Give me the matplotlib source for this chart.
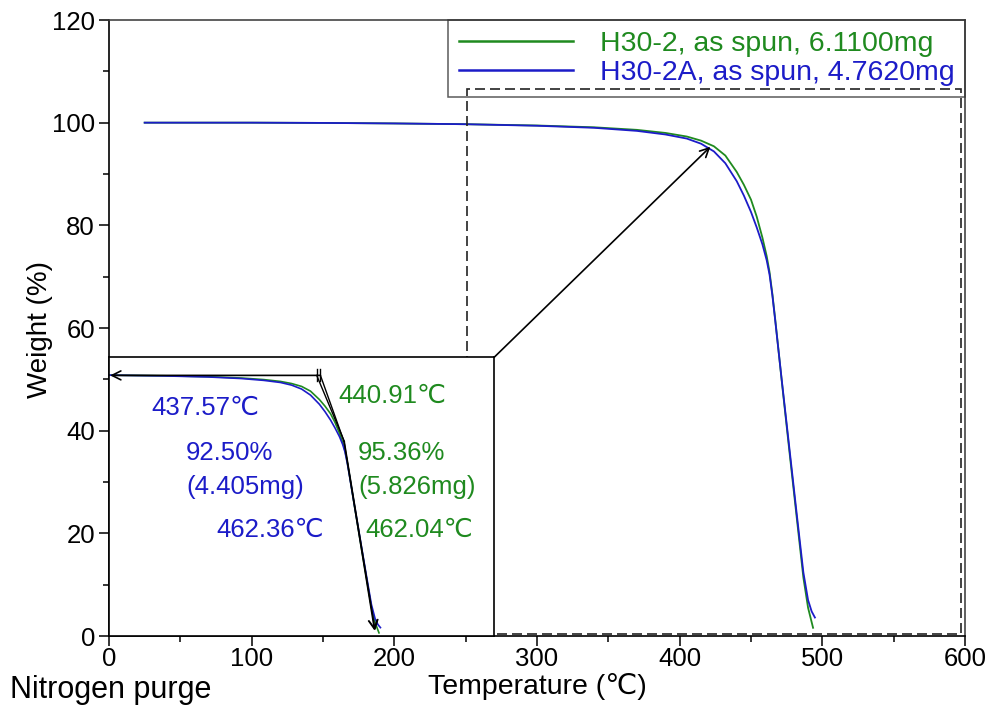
import numpy as np
import matplotlib.pyplot as plt
from matplotlib.ticker import MultipleLocator
from matplotlib.patches import Rectangle

plt.rcParams['font.family'] = ['Liberation Sans', 'DejaVu Sans']

GREEN = '#1f8a1f'
BLUE = '#1c1cc8'

# TGA curves (temperature in C, weight in %)
green_x = [25, 60, 100, 150, 200, 250, 300, 340, 370, 390, 405, 415, 424, 432,
           440, 445, 450, 454, 458, 461, 463, 465, 467, 469, 471.5, 477.3, 482,
           486.7, 490, 493.5]
green_y = [100, 100, 100, 99.95, 99.85, 99.7, 99.45, 99.1, 98.6, 98.0, 97.3,
           96.5, 95.4, 93.6, 90.4, 87.9, 85.0, 81.7, 77.6, 74.0, 70.9, 66.6,
           61.6, 56.4, 49.8, 35.0, 23.2, 11.4, 5.5, 1.6]

blue_x = [25, 60, 100, 150, 200, 250, 300, 340, 370, 390, 405, 415, 424, 432,
          440, 445, 450, 454, 458, 461, 463, 465, 467, 469, 471.5, 477.3, 482,
          486.7, 490, 492.5, 494.8]
blue_y = [100, 100, 100, 99.95, 99.85, 99.7, 99.4, 99.0, 98.4, 97.7, 96.9,
          95.9, 94.4, 92.1, 88.6, 85.8, 82.6, 79.6, 76.3, 73.2, 70.4, 66.3,
          61.4, 56.3, 50.0, 35.6, 23.9, 12.4, 7.0, 4.8, 3.6]

labels = ['H30-2, as spun, 6.1100mg', 'H30-2A, as spun, 4.7620mg']
onset = [440.91, 437.57]       # green, blue
inflect = [462.04, 462.36]
loss_pct = ['95.36%', '92.50%']
loss_mg = ['(5.826mg)', '(4.405mg)']

# zoom window (dashed box) and where the inset sits
zoom_x = (251, 597)
zoom_y = (0.4, 106.5)
inset_box = [0, 0, 270, 54.3]

fig = plt.figure(figsize=(9.95, 7.09), dpi=100)
ax = fig.add_axes([109/995, 73/709, 856/995, 616/709])

ax.plot(green_x, green_y, color=GREEN, lw=1.3, label=labels[0])
ax.plot(blue_x, blue_y, color=BLUE, lw=1.3, label=labels[1])

ax.set_xlim(0, 600)
ax.set_ylim(0, 120)
ax.xaxis.set_major_locator(MultipleLocator(100))
ax.xaxis.set_minor_locator(MultipleLocator(50))
ax.yaxis.set_major_locator(MultipleLocator(20))
ax.yaxis.set_minor_locator(MultipleLocator(10))
ax.tick_params(which='both', direction='out', top=False, right=False,
               labelsize=18.5, width=1.1)
ax.tick_params(axis='x', which='major', length=7, pad=1)
ax.tick_params(axis='y', which='major', length=7, pad=3)
ax.tick_params(which='minor', length=4)
for s in ['left', 'bottom']:
    ax.spines[s].set_linewidth(1.2)
for s in ['top', 'right']:
    ax.spines[s].set_color('#444')
    ax.spines[s].set_linewidth(1.2)

ax.add_patch(Rectangle((zoom_x[0], zoom_y[0]), zoom_x[1] - zoom_x[0],
                       zoom_y[1] - zoom_y[0], fill=False, ec='#222', lw=1.2,
                       ls=(0, (6, 3)), zorder=3))

leg = ax.legend(loc='upper right', bbox_to_anchor=(1, 1), borderaxespad=0,
                fontsize=20.5, handlelength=4.0, handletextpad=0.95,
                labelspacing=0.12, borderpad=0.38, fancybox=False,
                edgecolor='#333', labelcolor='linecolor')
leg.get_frame().set_facecolor('none')
leg.get_frame().set_linewidth(1.1)
for ln in leg.get_lines():
    ln.set_linewidth(1.8)

# inset with magnified step
axins = ax.inset_axes(inset_box, transform=ax.transData, zorder=5)
axins.plot(green_x, green_y, color=GREEN, lw=1.2)
axins.plot(blue_x, blue_y, color=BLUE, lw=1.2)
axins.set_xlim(*zoom_x)
axins.set_ylim(*zoom_y)
axins.set_xticks([])
axins.set_yticks([])
for s in axins.spines.values():
    s.set_linewidth(1.2)
    s.set_color('k')

base = 99.6
axins.annotate('', xy=(zoom_x[0] + 1, base), xytext=(max(onset), base),
               arrowprops=dict(arrowstyle='->', color='k', lw=1.2,
                               mutation_scale=16, shrinkA=0, shrinkB=0))
for i, t in enumerate(onset):
    axins.plot([t, t], [97.6, 102.2], color='k', lw=1.0)
    axins.plot([t, inflect[i]], [base, 74.5], color='k', lw=1.0)
    axins.annotate('', xy=(489.5 + 0.6 * i, 2.5), xytext=(inflect[i], 74.5),
                   arrowprops=dict(arrowstyle='->', color='k', lw=1.0,
                                   mutation_scale=16, shrinkA=0, shrinkB=0))

# connector from inset corner to the curve
ax.annotate('', xy=(421.5, 95.3), xytext=(inset_box[2], inset_box[3]),
            arrowprops=dict(arrowstyle='->', color='k', lw=1.2,
                            mutation_scale=16, shrinkA=0, shrinkB=0),
            zorder=10)

fs = 18.5
ax.text(30, 44.4, '%.2f℃' % onset[1], color=BLUE, fontsize=fs, va='center', zorder=10)
ax.text(160.5, 46.8, '%.2f℃' % onset[0], color=GREEN, fontsize=fs, va='center', zorder=10)
ax.text(54, 35.7, loss_pct[1], color=BLUE, fontsize=fs, va='center', zorder=10)
ax.text(54, 29.0, loss_mg[1], color=BLUE, fontsize=fs, va='center', zorder=10)
ax.text(174.5, 35.7, loss_pct[0], color=GREEN, fontsize=fs, va='center', zorder=10)
ax.text(174.5, 29.0, loss_mg[0], color=GREEN, fontsize=fs, va='center', zorder=10)
ax.text(75.5, 20.6, '%.2f℃' % inflect[1], color=BLUE, fontsize=fs, va='center', zorder=10)
ax.text(180, 20.6, '%.2f℃' % inflect[0], color=GREEN, fontsize=fs, va='center', zorder=10)

fig.text(40/995, 1 - 330/709, 'Weight (%)', rotation=90, fontsize=20,
         ha='center', va='center')
fig.text(537/995, 1 - 687/709, 'Temperature (℃)', fontsize=20.5,
         ha='center', va='center')
fig.text(10/995, 1 - 690/709, 'Nitrogen purge', fontsize=22,
         ha='left', va='center')

fig.savefig('out.png', dpi=100)
